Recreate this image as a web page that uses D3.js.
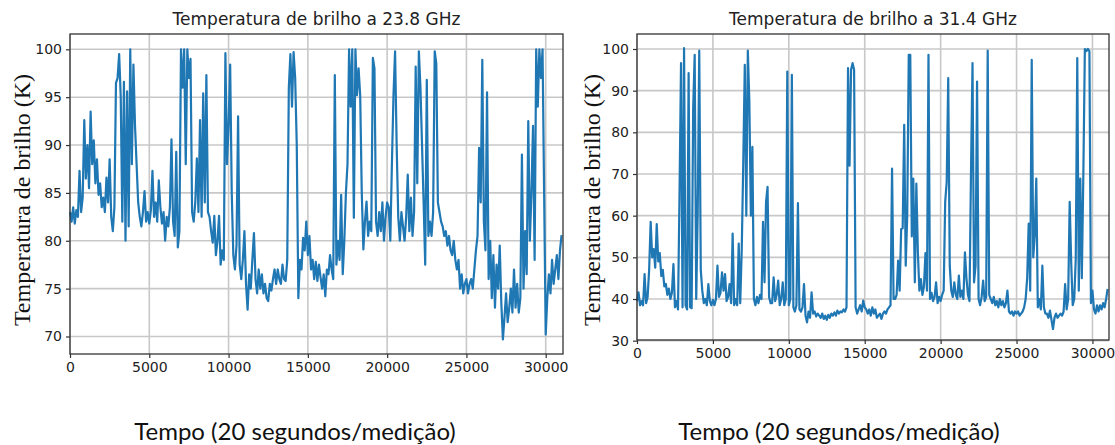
<!DOCTYPE html>
<html>
<head>
<meta charset="utf-8">
<script src="https://cdn.jsdelivr.net/npm/d3@7"></script>
<style>
  body { margin: 0; background: #fff; }
  .tick text { font-family: "DejaVu Sans", sans-serif; font-size: 14px; fill: #222; }
  .title { font-family: "DejaVu Sans", sans-serif; font-size: 17px; fill: #222; }
  .ylab { font-family: "Liberation Serif", "Times New Roman", serif; font-size: 24px; fill: #111; }
  .xlab { font-family: Lato, "Open Sans", sans-serif; font-size: 24px; fill: #111; }
</style>
</head>
<body>
<svg id="chart" width="1115" height="445"></svg>
<script>
// one sample every 100 measurements, starting at 0
const STEP = 100;
const xTicks = [0, 5000, 10000, 15000, 20000, 25000, 30000];

const titles = ["Temperatura de brilho a 23.8 GHz", "Temperatura de brilho a 31.4 GHz"];
const yLabel = "Temperatura de brilho (K)";
const xLabel = "Tempo (20 segundos/medição)";

const yTicks238 = [70, 75, 80, 85, 90, 95, 100];
const yTicks314 = [30, 40, 50, 60, 70, 80, 90, 100];

// brightness temperature at 23.8 GHz (K)
const tb238 = [
  83.0, 82.0, 83.5, 81.8, 83.2, 82.5, 87.3, 83.0, 84.5, 92.6,
  86.5, 90.0, 85.5, 93.5, 88.0, 90.5, 86.0, 88.5, 84.8, 86.0,
  83.5, 84.5, 83.0, 86.6, 84.0, 88.5, 82.5, 81.0, 83.5, 96.5,
  97.0, 99.5, 95.0, 82.0, 96.6, 80.0, 95.6, 81.5, 100.0, 88.0,
  98.4, 92.0, 88.0, 84.0, 82.5, 81.5, 83.0, 85.2, 82.0, 83.0,
  81.8, 83.2, 87.3, 82.5, 84.0, 82.0, 86.3, 83.5, 81.8, 83.0,
  80.0, 82.5, 81.5, 83.5, 90.6, 82.0, 80.5, 89.3, 79.3, 81.0,
  100.0, 96.0, 100.0, 88.0, 100.0, 97.0, 99.0, 83.0, 82.0, 84.0,
  88.6, 83.0, 92.6, 82.5, 95.4, 84.0, 97.3, 83.0, 82.5, 81.0,
  79.8, 82.6, 78.5, 80.0, 82.6, 77.5, 79.0, 78.0, 99.6, 88.0,
  92.0, 98.4, 85.0, 78.5, 77.0, 79.5, 93.0, 77.5, 76.0, 78.0,
  81.0, 75.5, 72.8, 76.5, 75.0, 78.0, 80.8, 76.0, 74.5, 77.0,
  75.0, 76.5, 74.5, 75.5, 74.0, 73.7, 75.5, 74.8, 76.0, 77.0,
  75.5, 77.0, 76.0, 75.5, 77.5, 76.0, 75.8, 78.0, 96.0, 99.5,
  94.0, 99.7, 97.0, 90.0, 74.0, 78.0, 77.0, 80.3, 79.0, 82.0,
  78.5, 80.5, 77.0, 78.0, 76.0, 77.8, 75.8, 77.5, 76.2, 75.0,
  76.5, 74.2, 77.0, 76.5, 78.5, 77.0, 76.0, 97.3, 77.5, 80.0,
  78.0, 84.8, 76.5, 80.0, 85.0, 88.0, 100.0, 94.0, 100.0, 82.4,
  100.0, 95.2, 98.0, 95.2, 85.0, 79.1, 82.0, 84.1, 80.5, 82.0,
  81.0, 99.1, 98.0, 82.0, 80.5, 83.0, 81.0, 84.0, 80.0, 82.5,
  84.0, 83.5, 80.0, 88.0, 95.2, 99.8, 90.0, 82.5, 80.0, 83.0,
  81.5, 80.0, 82.5, 86.9, 81.0, 84.5, 80.5, 83.0, 98.2, 86.0,
  99.8, 96.0, 90.0, 84.0, 77.5, 96.8, 80.5, 82.0, 80.5, 83.0,
  99.8, 98.5, 84.0, 83.0, 82.0, 81.5, 80.5, 81.0, 79.5, 80.5,
  79.0, 78.5, 80.0, 78.0, 77.0, 78.0, 75.0, 76.5, 74.5, 75.5,
  76.0, 74.5, 75.5, 76.0, 75.0, 77.0, 79.0, 80.5, 89.7, 84.0,
  98.9, 82.0, 79.0, 95.5, 76.0, 80.0, 74.0, 78.5, 73.0, 77.5,
  75.0, 79.5, 73.5, 69.7, 72.0, 74.5, 71.5, 73.0, 75.0, 72.5,
  77.0, 73.0, 75.5, 72.5, 74.0, 89.0, 75.0, 81.0, 76.5, 92.5,
  80.0, 85.0, 92.0, 78.0, 100.0, 94.0, 100.0, 97.0, 100.0, 85.0,
  70.2, 74.0, 76.5, 74.5, 78.0, 75.5, 77.0, 78.5, 76.0, 79.0,
  80.6
];

// brightness temperature at 31.4 GHz (K)
const tb314 = [
  39.5, 41.6, 38.5, 39.5, 38.5, 46.0, 39.0, 40.5, 47.0, 58.5,
  50.0, 52.0, 47.5, 58.0, 49.0, 51.0, 45.5, 47.0, 43.0, 43.6,
  41.0, 42.5, 40.0, 41.5, 48.4, 38.0, 39.5, 37.5, 64.9, 96.6,
  38.0, 100.2, 38.5, 37.5, 94.2, 38.0, 37.8, 85.8, 98.6, 40.0,
  60.9, 99.6, 47.0, 42.0, 39.0, 40.0, 38.5, 43.6, 39.5, 38.5,
  39.8, 38.5, 40.0, 48.0, 40.5, 41.5, 46.4, 42.0, 46.0, 39.5,
  40.5, 43.6, 39.0, 55.7, 38.5, 40.0, 38.5, 53.3, 39.0, 52.0,
  72.9, 96.2, 60.0, 99.6, 87.4, 60.0, 76.5, 40.0, 38.5, 40.5,
  39.0, 41.0, 40.0, 58.5, 44.0, 63.3, 66.9, 40.5, 39.0, 39.0,
  45.2, 39.5, 41.0, 44.4, 38.5, 40.0, 44.0, 38.5, 40.0, 94.6,
  38.5, 40.0, 93.8, 38.0, 37.0, 38.5, 63.0, 37.5, 37.0, 38.0,
  43.6, 36.0, 34.4, 37.0, 35.5, 41.6, 36.5, 37.0, 35.8, 36.5,
  36.0, 35.5, 36.5, 35.2, 36.0, 35.0, 36.2, 35.5, 36.5, 36.0,
  36.8, 36.0, 37.2, 36.5, 37.0, 36.8, 37.5, 37.0, 38.0, 95.4,
  72.0, 95.0, 96.6, 95.0, 38.0, 36.5, 37.5, 38.5, 37.0, 39.6,
  38.0, 37.5, 36.5, 37.5, 36.0, 38.0, 36.5, 37.5, 35.5, 36.0,
  36.5, 35.2, 36.5, 37.0, 36.5, 37.5, 38.0, 38.5, 71.3, 40.0,
  40.0, 41.0, 49.2, 42.0, 56.8, 57.0, 81.8, 48.0, 60.0, 98.6,
  98.6, 55.0, 68.9, 44.0, 67.7, 51.2, 42.0, 44.8, 41.0, 43.0,
  51.0, 42.0, 98.6, 40.0, 41.5, 39.5, 40.5, 44.0, 39.0, 40.5,
  39.5, 41.0, 42.0, 63.3, 68.1, 93.0, 48.0, 42.0, 40.5, 44.0,
  41.0, 40.0, 45.6, 40.5, 42.0, 40.0, 51.2, 45.0, 41.0, 39.5,
  70.5, 96.6, 44.0, 48.0, 92.2, 40.0, 38.5, 40.5, 44.4, 39.5,
  40.5, 99.6, 41.0, 40.0, 39.0, 40.5, 38.5, 39.5, 38.0, 40.0,
  38.5, 39.5, 38.0, 39.0, 42.0, 37.0, 36.5, 37.0, 36.0, 37.0,
  36.5, 37.0, 36.0, 36.5, 37.0, 38.0, 40.0, 45.0, 58.1, 42.0,
  97.4, 50.0, 55.3, 68.9, 38.0, 40.0, 37.5, 48.0, 38.0, 36.5,
  36.5, 35.5, 37.2, 35.0, 32.8, 35.5, 36.5, 35.5, 36.0, 36.5,
  36.0, 37.0, 43.6, 37.5, 40.0, 63.3, 48.8, 38.5, 40.0, 49.6,
  97.8, 42.0, 68.9, 45.0, 70.0, 100.0, 99.5, 100.0, 99.5, 39.0,
  42.0, 37.5, 36.5, 38.5, 37.0, 38.5, 37.5, 39.0, 38.0, 40.0,
  42.4
];

const svg = d3.select("#chart");

const panels = [
  { values: tb238, title: titles[0], yTicks: yTicks238, yDomain: [68.17, 101.6],
    left: 70, top: 34, width: 493, height: 320, yLabX: 22, xLabX: 295 },
  { values: tb314, title: titles[1], yTicks: yTicks314, yDomain: [30.16, 103.6],
    left: 637, top: 34, width: 472, height: 306, yLabX: 592, xLabX: 839 }
];

panels.forEach(function (p) {
  const x = d3.scaleLinear().domain([0, 31090]).range([0, p.width]);
  const y = d3.scaleLinear().domain(p.yDomain).range([p.height, 0]);

  const g = svg.append("g").attr("transform", `translate(${p.left},${p.top})`);

  // grid
  g.append("g")
    .selectAll("line.gx")
    .data(xTicks)
    .enter()
    .append("line")
    .attr("x1", (d) => x(d)).attr("x2", (d) => x(d))
    .attr("y1", 0).attr("y2", p.height)
    .attr("stroke", "#c8c8c8").attr("stroke-width", 1.6);
  g.append("g")
    .selectAll("line.gy")
    .data(p.yTicks)
    .enter()
    .append("line")
    .attr("x1", 0).attr("x2", p.width)
    .attr("y1", (d) => y(d)).attr("y2", (d) => y(d))
    .attr("stroke", "#c8c8c8").attr("stroke-width", 1.6);

  // series
  const line = d3.line()
    .x((d, i) => x(i * STEP))
    .y((d) => y(d));
  g.append("path")
    .datum(p.values)
    .attr("fill", "none")
    .attr("stroke", "#1f77b4")
    .attr("stroke-width", 2.2)
    .attr("stroke-linejoin", "round")
    .attr("d", line);

  // frame
  g.append("rect")
    .attr("width", p.width).attr("height", p.height)
    .attr("fill", "none").attr("stroke", "#333").attr("stroke-width", 1.3);

  // axes
  const xa = g.append("g")
    .attr("transform", `translate(0,${p.height})`)
    .call(d3.axisBottom(x).tickValues(xTicks).tickFormat(d3.format("d")).tickSize(4).tickPadding(4));
  const ya = g.append("g")
    .call(d3.axisLeft(y).tickValues(p.yTicks).tickFormat(d3.format("d")).tickSize(4).tickPadding(4));
  [xa, ya].forEach(function (a) {
    a.select(".domain").remove();
    a.selectAll(".tick line").attr("stroke", "#333").attr("stroke-width", 1.2);
  });

  g.append("text")
    .attr("class", "title")
    .attr("x", p.width / 2).attr("y", -9)
    .attr("text-anchor", "middle")
    .text(p.title);

  svg.append("text")
    .attr("class", "ylab")
    .attr("transform", `translate(${p.yLabX},200) rotate(-90)`)
    .attr("text-anchor", "middle")
    .attr("dy", "0.35em")
    .text(yLabel);

  svg.append("text")
    .attr("class", "xlab")
    .attr("x", p.xLabX).attr("y", 440)
    .attr("text-anchor", "middle")
    .text(xLabel);
});
</script>
</body>
</html>
